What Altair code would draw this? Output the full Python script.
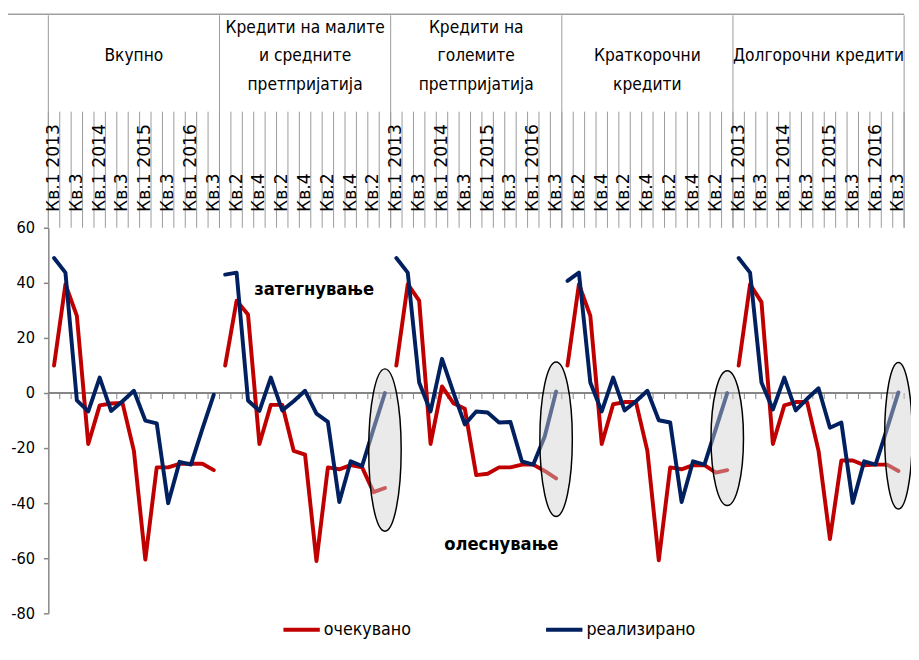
import altair as alt
import pandas as pd

NARROW = "DejaVu Sans Condensed, Liberation Sans Narrow, sans-serif"
WIDE = "DejaVu Sans, Verdana, sans-serif"
RED = "#c00000"
NAVY = "#002060"
GRAY = "#868686"

groups = [
    "\n\nВкупно",
    "Кредити на малите\nи средните\nпретпријатија",
    "Кредити на\nголемите\nпретпријатија",
    "\nКраткорочни\nкредити",
    "\n\nДолгорочни кредити",
]
quarters = ["Кв.1 2013", "Кв.2", "Кв.3", "Кв.4",
            "Кв.1 2014", "Кв.2", "Кв.3", "Кв.4",
            "Кв.1 2015", "Кв.2", "Кв.3", "Кв.4",
            "Кв.1 2016", "Кв.2", "Кв.3"]
series = ["очекувано", "реализирано"]

expected = [
    [10, 39.5, 28, -18.5, -4.5, -3.8, -3.6, -21, -60.5, -27, -27, -25.7, -25.7, -25.7, -28],
    [10, 33.5, 28.5, -18.5, -4.3, -4.3, -21, -22.4, -61, -27, -27.7, -26.2, -27, -36, -34.5],
    [10, 39.5, 33.5, -18.5, 2.4, -3.7, -5.7, -29.8, -29.3, -27, -27, -26, -26, -28.3, -31],
    [10, 39.5, 28, -18.5, -4.1, -3.3, -3.3, -21, -60.7, -27, -27.7, -26.2, -26.2, -28.9, -28],
    [10, 39.5, 33, -18.5, -4.5, -3.3, -3.3, -21, -53, -24.5, -24.5, -26.2, -26, -26, -28.3],
]
realized = [
    [49, 43.7, -2.7, -6.7, 5.6, -6.5, -3, 0.8, -10, -11, -40, -25, -26, -13, -0.6],
    [43, 43.7, -2.7, -6.5, 5.6, -6.3, -3, 0.8, -7.5, -10.5, -39.6, -24.8, -26.5, -13, 0],
    [49, 43.7, 3.8, -6.7, 12.4, 0.2, -11.4, -6.7, -7.1, -10.7, -10.5, -24.8, -26, -15.8, 0.5],
    [40.7, 43.7, 3.8, -6.7, 5.6, -6.3, -3, 0.8, -9.9, -10.7, -39.6, -24.8, -26, -13, 0],
    [49, 43.7, 3.8, -6, 5.6, -6.3, -2.1, 1.7, -12.6, -10.7, -39.9, -24.8, -26, -13, 0.2],
]

# annotations
ann_text = ["затегнување", "олеснување"]
ann_k = [23.3, 39.7]
ann_val = [37.9, -55]

# highlighted forecast regions (ellipses): group index and centre value
ell_group = [1, 2, 3, 4]
ell_val = [-20.7, -16.8, -16.4, -15.5]
ell_half_h = [82.5, 78.5, 68.5, 74.5]   # px
ell_half_w = [16.5, 16.5, 16.5, 14]     # px

n_per = len(quarters)
n_cat = n_per * len(groups)

rows = []
for g in range(len(groups)):
    for i in range(n_per):
        rows.append({"k": g * n_per + i, "grp": g, "series": series[0], "value": expected[g][i]})
        rows.append({"k": g * n_per + i, "grp": g, "series": series[1], "value": realized[g][i]})
df = pd.DataFrame(rows)

cat_df = pd.DataFrame({"k": list(range(n_cat)), "label": [quarters[k % n_per] for k in range(n_cat)]})
bnd_df = pd.DataFrame({"b": list(range(n_cat + 1))})
grp_df = pd.DataFrame({"grp": list(range(len(groups))), "name": groups})
ann_df = pd.DataFrame({"t": ann_text, "k": ann_k, "v": ann_val})

X = alt.Scale(domain=[0, n_cat], nice=False, zero=False)
Y = alt.Scale(domain=[-80, 60], range=[608, 216], nice=False, zero=False)
Y_AXIS = alt.Axis(values=[-80, -60, -40, -20, 0, 20, 40, 60], grid=False, title=None,
                  domainColor=GRAY, domainWidth=1.5, tickColor=GRAY, tickWidth=1.5,
                  tickSize=5, labelFont=NARROW, labelFontSize=16.5, labelColor="black",
                  labelPadding=9, labelExpr="'' + datum.value")

lines = alt.Chart(df).transform_calculate(xc="datum.k + 0.5").mark_line(
    strokeWidth=4, strokeJoin="round", strokeCap="round"
).encode(
    x=alt.X("xc:Q", scale=X, axis=None),
    y=alt.Y("value:Q", scale=Y, axis=Y_AXIS),
    color=alt.Color("series:N", scale=alt.Scale(domain=series, range=[RED, NAVY]),
                    legend=alt.Legend(orient="none", legendX=237, legendY=604, direction="horizontal",
                                      title=None, symbolType="stroke", symbolStrokeWidth=4,
                                      symbolSize=1369, labelFont=NARROW, labelFontSize=18,
                                      labelColor="black", columnPadding=129, padding=0,
                                      labelOffset=2)),
    detail="grp:N",
)

top_border = alt.Chart(bnd_df).transform_filter("datum.b == 0").mark_rule(
    color="#a0a0a0", strokeWidth=1.5
).encode(x=alt.value(-41), x2=alt.value(870), y=alt.value(-1))

zero_line = alt.Chart(bnd_df).transform_filter("datum.b == 0").transform_calculate(
    y0="0"
).mark_rule(color=GRAY, strokeWidth=2).encode(
    x=alt.X("b:Q", scale=X, axis=None), x2=alt.value(863), y=alt.Y("y0:Q", scale=Y, axis=Y_AXIS)
)
zero_ticks = alt.Chart(bnd_df).transform_calculate(y0="0", y1="-2.2").mark_rule(
    color=GRAY, strokeWidth=1
).encode(
    x=alt.X("b:Q", scale=X, axis=None), y=alt.Y("y0:Q", scale=Y, axis=Y_AXIS), y2="y1:Q"
)
short_sep = alt.Chart(bnd_df).mark_rule(color="#9a9a9a", strokeWidth=1).encode(
    x=alt.X("b:Q", scale=X, axis=None), y=alt.value(98), y2=alt.value(216)
)
long_sep = alt.Chart(bnd_df).transform_filter(f"datum.b % {n_per} == 0").mark_rule(
    color="#9a9a9a", strokeWidth=1
).encode(x=alt.X("b:Q", scale=X, axis=None), y=alt.value(0), y2=alt.value(216))

tick_labels = alt.Chart(cat_df).transform_filter("datum.k % 2 == 0").transform_calculate(
    xc="datum.k + 0.5"
).mark_text(angle=270, align="left", baseline="middle", font=WIDE, fontSize=17.5, color="black").encode(
    x=alt.X("xc:Q", scale=X, axis=None), y=alt.value(200), text="label:N"
)

group_labels = alt.Chart(grp_df).transform_calculate(
    xc=f"datum.grp * {n_per} + {n_per / 2}"
).mark_text(lineBreak="\n", lineHeight=29, baseline="bottom", align="center",
            font=NARROW, fontSize=17.5, color="black").encode(
    x=alt.X("xc:Q", scale=X, axis=None), y=alt.value(22), text="name:N"
)

annotations = alt.Chart(ann_df).mark_text(font=NARROW, fontSize=18.5, fontWeight="bold", color="black").encode(
    x=alt.X("k:Q", scale=X, axis=None), y=alt.Y("v:Q", scale=Y, axis=Y_AXIS), text="t:N"
)

ellipses = []
K = 0.5523
for g, v, hh, hw in zip(ell_group, ell_val, ell_half_h, ell_half_w):
    r = hw / hh
    path = (f"M0,-1 C{K*r:.4f},-1 {r:.4f},{-K:.4f} {r:.4f},0 "
            f"C{r:.4f},{K:.4f} {K*r:.4f},1 0,1 "
            f"C{-K*r:.4f},1 {-r:.4f},{K:.4f} {-r:.4f},0 "
            f"C{-r:.4f},{-K:.4f} {-K*r:.4f},-1 0,-1 Z")
    e_df = pd.DataFrame({"k": [g * n_per + n_per - 1], "v": [v]})
    ellipses.append(
        alt.Chart(e_df).transform_calculate(xc="datum.k + 0.5").mark_point(
            shape=path, size=(2 * hh) ** 2, filled=True, color="#d0d0d0", fillOpacity=0.45,
            stroke="black", strokeWidth=1.5, strokeOpacity=1, opacity=1
        ).encode(x=alt.X("xc:Q", scale=X, axis=None), y=alt.Y("v:Q", scale=Y, axis=Y_AXIS))
    )

chart = alt.layer(
    top_border, long_sep, short_sep, zero_line, zero_ticks, tick_labels, group_labels,
    lines, *ellipses, annotations
).properties(
    width=870, height=648,
    autosize=alt.AutoSizeParams(type="none"),
    padding={"left": 41, "top": 2, "right": 7, "bottom": 0},
    background="white",
).configure_view(stroke=None)

chart.save("out.html", embed_options={"renderer": "svg", "actions": False})
